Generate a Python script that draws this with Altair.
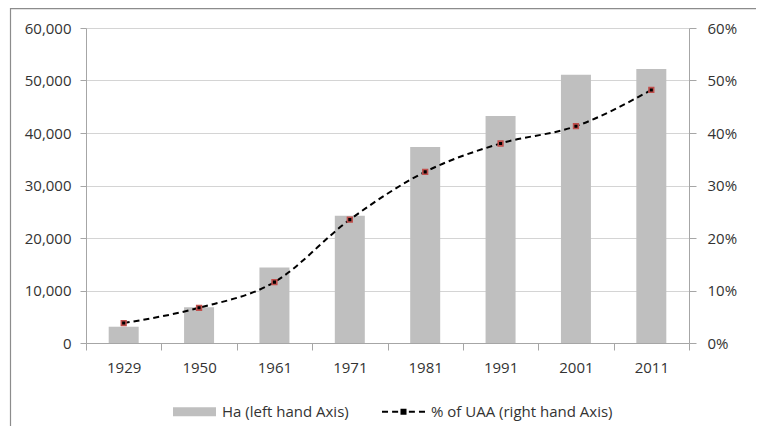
import altair as alt
import pandas as pd

years = ["1929", "1950", "1961", "1971", "1981", "1991", "2001", "2011"]
ha = [3100, 6800, 14400, 24250, 37350, 43250, 51100, 52200]
pct = [0.038, 0.067, 0.116, 0.235, 0.326, 0.380, 0.413, 0.482]
series = ["Ha (left hand Axis)", "% of UAA (right hand Axis)"]

df = pd.DataFrame({"year": years, "ha": ha, "pct": pct})
leg = pd.DataFrame({"series": series})

FONT = "Open Sans"
TXT = "#333333"
AXC = "#a6a6a6"
GRID = "#d4d4d4"

x_enc = alt.X(
    "year:N",
    sort=years,
    scale=alt.Scale(paddingInner=0, paddingOuter=0),
    axis=alt.Axis(
        title=None, labelAngle=0, tickBand="extent", domainColor=AXC, tickColor=AXC,
        tickSize=7, labelPadding=10, labelFont=FONT, labelFontSize=15, labelColor=TXT, grid=False,
    ),
)

base = alt.Chart(df)

bars = base.mark_bar(size=30, color="#bfbfbf").encode(
    x=x_enc,
    y=alt.Y(
        "ha:Q",
        scale=alt.Scale(domain=[0, 60000], nice=False),
        axis=alt.Axis(
            title=None, orient="left", values=list(range(0, 60001, 10000)), format=",.0f",
            grid=True, gridColor=GRID, domainColor=AXC, tickColor=AXC, tickSize=6,
            labelPadding=9, labelFont=FONT, labelFontSize=15, labelColor=TXT,
        ),
    ),
)

pct_scale = alt.Scale(domain=[0, 0.6], nice=False)

line = base.mark_line(
    color="black", strokeDash=[6, 4], strokeWidth=2, interpolate="monotone"
).encode(
    x=alt.X("year:N", sort=years),
    y=alt.Y(
        "pct:Q",
        scale=pct_scale,
        axis=alt.Axis(
            title=None, orient="right", values=[0, 0.1, 0.2, 0.3, 0.4, 0.5, 0.6], format=".0%",
            grid=False, domainColor=AXC, tickColor=AXC, tickSize=7,
            labelPadding=11, labelFont=FONT, labelFontSize=15, labelColor=TXT,
        ),
    ),
)

markers = base.mark_square(
    size=22, fill="black", stroke="#c0504d", strokeWidth=1.6, opacity=1
).encode(
    x=alt.X("year:N", sort=years),
    y=alt.Y("pct:Q", scale=pct_scale, axis=None),
)

bar_path = "M-1,-0.21H1V0.21H-1Z"
line_path = (
    "M-1,-0.05H-0.72V0.05H-1Z "
    "M-0.53,-0.05H-0.25V0.05H-0.53Z "
    "M-0.14,-0.14H0.14V0.14H-0.14Z "
    "M0.25,-0.05H0.53V0.05H0.25Z "
    "M0.72,-0.05H1V0.05H0.72Z"
)

legend_layer = alt.Chart(leg).transform_filter("false").mark_point(
    filled=True, opacity=1
).encode(
    color=alt.Color(
        "series:N",
        sort=series,
        scale=alt.Scale(domain=series, range=["#bfbfbf", "#000000"]),
        legend=alt.Legend(
            title=None, orient="none", direction="horizontal", legendX=87, legendY=362,
            symbolSize=1849, symbolOpacity=1, symbolStrokeWidth=0, labelOffset=6,
            columnPadding=33, labelLimit=400, labelFont=FONT, labelFontSize=15,
            labelColor=TXT,
        ),
    ),
    shape=alt.Shape(
        "series:N",
        sort=series,
        scale=alt.Scale(domain=series, range=[bar_path, line_path]),
    ),
)

frame = alt.Chart(alt.Data(values=[{}])).mark_rect(
    fill=None, stroke="#8c8c8c", strokeWidth=1.2
).encode(
    x=alt.value(-75.5), x2=alt.value(720), y=alt.value(-19.4), y2=alt.value(440)
)

chart = alt.layer(frame, bars, line, markers, legend_layer).resolve_scale(
    y="independent"
).properties(
    width=603,
    height=315,
    autosize=alt.AutoSizeParams(type="none"),
    padding={"left": 78, "top": 20, "right": 67, "bottom": 83},
).configure_view(stroke=None)

chart.save("out.html", embed_options={"renderer": "svg", "actions": False})
